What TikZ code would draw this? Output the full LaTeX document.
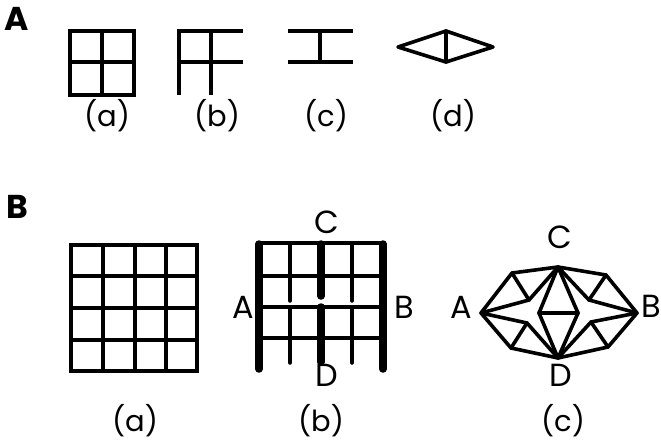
\documentclass[tikz,border=0pt]{standalone}
\usepackage{fontspec}
\setmainfont{Poppins}
\usepackage{tikz}
\tikzset{
  thinline/.style={line width=3.5pt},
  thickline/.style={line width=7.5pt,line cap=round},
  meshline/.style={line width=3.6pt,line join=round,line cap=round},
  caption/.style={font=\fontsize{29}{29}\selectfont,inner sep=0pt},
  vertexlabel/.style={font=\fontsize{32}{32}\selectfont,inner sep=0pt},
  panel/.style={font=\fontsize{33}{33}\selectfont\bfseries,inner sep=0pt}
}
\begin{document}
\begin{tikzpicture}[x=1pt,y=-1pt]
\useasboundingbox (0,0) rectangle (661,441);
\node[panel] (panelA) at (17,19) {A};
\node[panel] (panelB) at (17,207) {B};
% part A
\draw[thinline] (70,31) rectangle (134,95);
\draw[thinline] (102,31)--(102,95);
\draw[thinline] (70,62)--(134,62);
\draw[thinline] (179,95)--(179,31)--(243,31);
\draw[thinline] (179,62)--(243,62);
\draw[thinline] (211,31)--(211,95);
\draw[thinline] (288,31)--(353,31);
\draw[thinline] (288,62)--(353,62);
\draw[thinline] (320,31)--(320,62);
\coordinate (dl) at (398,47);
\coordinate (dt) at (446,31);
\coordinate (dr) at (493,47);
\coordinate (db) at (446,62);
\draw[meshline] (dl)--(dt)--(dr)--(db)--cycle;
\draw[meshline] (dt)--(db);
\node[caption] (capAa) at (107,116) {(a)};
\node[caption] (capAb) at (217,116) {(b)};
\node[caption] (capAc) at (326,116) {(c)};
\node[caption] (capAd) at (453,116) {(d)};
% part B, full grid
\draw[thinline] (71,245) rectangle (197,371);
\foreach \x in {103,135,166} \draw[thinline] (\x,245)--(\x,371);
\foreach \y in {276,308,340} \draw[thinline] (71,\y)--(197,\y);
% part B, cut grid
\foreach \y in {243,276,307,338} \draw[thinline] (259,\y)--(383,\y);
\foreach \x in {290,352} {
  \draw[line width=3.5pt,line cap=round] (\x,243)--(\x,301);
  \draw[line width=3.5pt,line cap=round] (\x,307)--(\x,363);
}
\draw[thickline] (259,244)--(259,369);
\draw[thickline] (383,244)--(383,369);
\draw[thickline] (321,244)--(321,296);
\draw[thickline] (321,307)--(321,362);
\node[vertexlabel] (cutA) at (243,307) {A};
\node[vertexlabel] (cutB) at (404,307) {B};
\node[vertexlabel] (cutC) at (327,222) {C};
\node[vertexlabel] (cutD) at (327,375) {D};
% part B, triangulated
\coordinate (vA) at (481,313);
\coordinate (vTL) at (512,273);
\coordinate (vC) at (558,267);
\coordinate (vTR) at (606,275);
\coordinate (vB) at (637,313);
\coordinate (vBR) at (608,347);
\coordinate (vD) at (558,358);
\coordinate (vBL) at (511,348);
\coordinate (vUL) at (529,300);
\coordinate (vUR) at (589,300);
\coordinate (vLL) at (527,323);
\coordinate (vLR) at (591,322);
\coordinate (vL) at (539,313);
\coordinate (vR) at (578,313);
\draw[meshline] (vA)--(vTL)--(vC)--(vTR)--(vB)--(vBR)--(vD)--(vBL)--cycle;
\draw[meshline] (vTL)--(vUL);
\draw[meshline] (vA)--(vUL)--(vC);
\draw[meshline] (vTR)--(vUR);
\draw[meshline] (vB)--(vUR)--(vC);
\draw[meshline] (vBL)--(vLL);
\draw[meshline] (vA)--(vLL)--(vD);
\draw[meshline] (vBR)--(vLR);
\draw[meshline] (vB)--(vLR)--(vD);
\draw[meshline] (vC)--(vL)--(vD)--(vR)--cycle;
\draw[meshline] (vL)--(vR);
\node[vertexlabel] (meshA) at (461,307) {A};
\node[vertexlabel] (meshB) at (651,306) {B};
\node[vertexlabel] (meshC) at (560,237) {C};
\node[vertexlabel] (meshD) at (561,375) {D};
\node[caption] (capBa) at (135,421) {(a)};
\node[caption] (capBb) at (321,421) {(b)};
\node[caption] (capBc) at (563,421) {(c)};
\end{tikzpicture}
\end{document}
